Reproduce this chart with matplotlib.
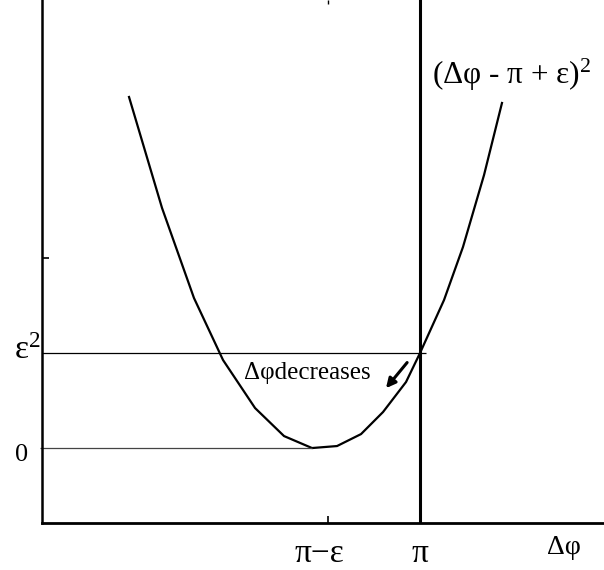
import matplotlib
matplotlib.use("Agg")
import matplotlib.pyplot as plt

plt.rcParams['font.family'] = ['Liberation Serif', 'DejaVu Serif']
plt.rcParams['mathtext.fontset'] = 'custom'
plt.rcParams['mathtext.rm'] = 'Liberation Serif'
plt.rcParams['mathtext.it'] = 'Liberation Serif'

# x measured from pi - eps (eps = 1), y in units of eps^2
curve_x = [-2.163, -1.804, -1.457, -1.141, -0.793, -0.478, -0.174, 0.098,
           0.359, 0.598, 0.848, 1.0, 1.261, 1.467, 1.696, 1.891]
curve_y = [3.695, 2.526, 1.579, 0.926, 0.421, 0.126, 0.0, 0.021,
           0.147, 0.379, 0.695, 1.0, 1.558, 2.116, 2.874, 3.632]

x_ticks = [0.0, 1.0]
x_tick_labels = ["π−ε", "π"]
y_levels = [0.0, 1.0]
y_level_labels = ["0", "ε$^{2}$"]
y_level_ends = [-0.174, 1.065]

fig = plt.figure(figsize=(6.04, 5.70), dpi=100)
ax = fig.add_axes([42 / 604, 47 / 570, 562 / 604, 523 / 570])
ax.set_xlim(-3.109, 3.0)
ax.set_ylim(-0.789, 4.716)

for s in ["top", "right"]:
    ax.spines[s].set_visible(False)
ax.spines["left"].set_linewidth(1.8)
ax.spines["bottom"].set_linewidth(2.0)

ax.set_xticks(x_ticks)
ax.set_xticklabels([])
ax.set_yticks([2.0])
ax.set_yticklabels([])
ax.tick_params(direction="in", length=5, width=1.2)

# curve
ax.plot(curve_x, curve_y, color="black", lw=1.6)

# reference lines
ax.hlines(y_levels[1], -3.109, y_level_ends[1], color="black", lw=0.9)
ax.hlines(y_levels[0], -3.13, y_level_ends[0], color="#444444", lw=0.9, clip_on=False)
ax.axvline(1.0, color="black", lw=2.2)
ax.vlines(0.0, 4.67, 4.716, color="black", lw=1.0)

# labels
for xv, lab in zip([-0.098, 1.0], x_tick_labels):
    ax.text(xv, -1.11, lab, fontsize=24, ha="center", va="center", clip_on=False)
ax.text(2.56, -1.05, "Δφ", fontsize=20, ha="center", va="center", clip_on=False)

ax.text(-3.33, -0.07, y_level_labels[0], fontsize=19, ha="center", va="center", clip_on=False)
ax.text(-3.27, 1.02, y_level_labels[1], fontsize=24, ha="center", va="center", clip_on=False)

ax.text(1.13, 3.93, "(Δφ - π + ε)$^{2}$", fontsize=22.5, ha="left", va="center")
ax.text(-0.91, 0.79, "Δφdecreases", fontsize=18, ha="left", va="center")

ax.annotate("", xy=(0.63, 0.63), xytext=(0.86, 0.90),
            arrowprops=dict(arrowstyle="-|>", color="black", lw=2.2,
                            mutation_scale=14, shrinkA=0, shrinkB=0))

fig.savefig("out.png", dpi=100)
